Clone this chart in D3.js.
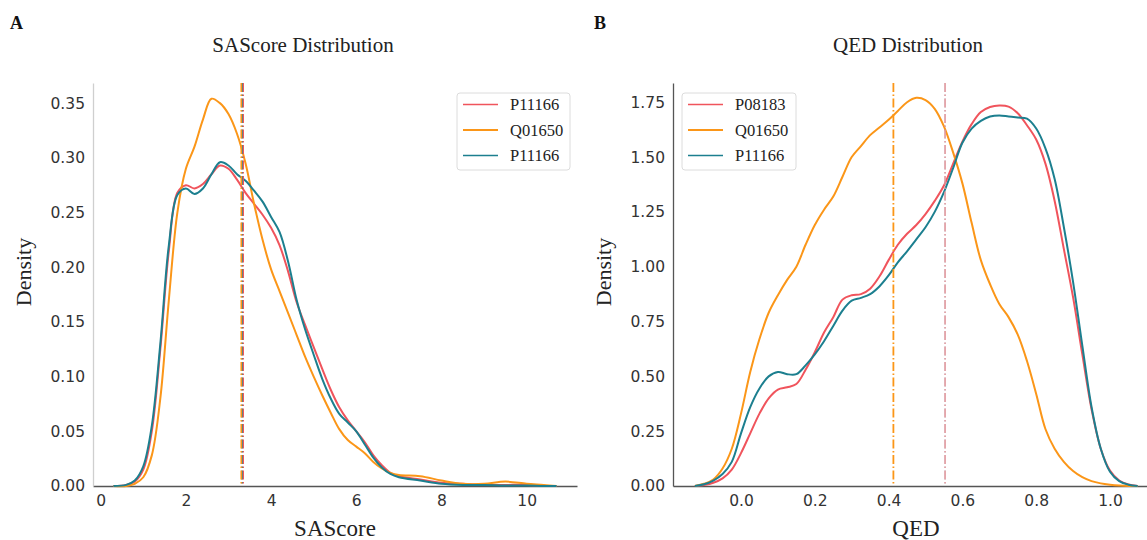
<!DOCTYPE html>
<html>
<head>
<meta charset="utf-8">
<script src="https://cdn.jsdelivr.net/npm/d3@7"></script>
<style>
  body { margin: 0; background: #fff; }
  svg { display: block; }
</style>
</head>
<body>
<svg width="1147" height="540"></svg>
<script>
// ---- data ----
const seriesColors = ["#f0545c", "#fb9618", "#1c7f8f"];

// panel A: SAScore kde curves
const saLabels = ["P11166", "Q01650", "P11166"];
const saX = [0.3, 0.6, 0.8, 1.0, 1.2, 1.4, 1.6, 1.8, 2.0, 2.2, 2.4, 2.6, 2.8, 3.0, 3.2, 3.4, 3.6, 3.8, 4.0, 4.2,
  4.4, 4.6, 4.8, 5.0, 5.2, 5.4, 5.6, 5.8, 6.0, 6.2, 6.4, 6.6, 6.8, 7.0, 7.5, 8.0, 8.5, 9.0, 9.5, 10.0, 10.4, 10.7];
const saRed = [0, 0.001, 0.004, 0.015, 0.05, 0.125, 0.215, 0.268, 0.275, 0.272, 0.276, 0.285, 0.293, 0.29, 0.28, 0.268,
  0.258, 0.248, 0.236, 0.22, 0.196, 0.168, 0.147, 0.127, 0.107, 0.088, 0.072, 0.06, 0.05, 0.04, 0.028, 0.019, 0.012,
  0.009, 0.006, 0.003, 0.002, 0.001, 0.001, 0.001, 0, 0];
const saOrange = [0, 0, 0.002, 0.008, 0.028, 0.08, 0.17, 0.25, 0.29, 0.31, 0.335, 0.354, 0.35, 0.34, 0.322, 0.295,
  0.258, 0.225, 0.198, 0.178, 0.158, 0.138, 0.118, 0.1, 0.083, 0.067, 0.052, 0.042, 0.036, 0.03, 0.022, 0.016, 0.012,
  0.01, 0.009, 0.005, 0.002, 0.002, 0.004, 0.002, 0.001, 0];
const saTeal = [0, 0.001, 0.005, 0.018, 0.055, 0.13, 0.22, 0.266, 0.272, 0.267, 0.272, 0.285, 0.296, 0.293, 0.285, 0.279,
  0.27, 0.26, 0.246, 0.232, 0.205, 0.17, 0.143, 0.12, 0.098, 0.08, 0.066, 0.058, 0.05, 0.038, 0.026, 0.017, 0.011,
  0.008, 0.005, 0.002, 0.001, 0.001, 0.0005, 0.0005, 0, 0];
const saMeans = [3.345, 3.30, 3.32];
const saTicksX = [0, 2, 4, 6, 8, 10];
const saTicksY = [0, 0.05, 0.10, 0.15, 0.20, 0.25, 0.30, 0.35];

// panel B: QED kde curves
const qedLabels = ["P08183", "Q01650", "P11166"];
const qedX = [-0.125, -0.1, -0.075, -0.05, -0.025, 0, 0.025, 0.05, 0.075, 0.1, 0.125, 0.15, 0.175, 0.2, 0.225, 0.25,
  0.275, 0.3, 0.325, 0.35, 0.375, 0.4, 0.425, 0.45, 0.475, 0.5, 0.525, 0.55, 0.575, 0.6, 0.625, 0.65, 0.675, 0.7,
  0.725, 0.75, 0.775, 0.8, 0.825, 0.85, 0.875, 0.9, 0.925, 0.95, 0.975, 1.0, 1.025, 1.05, 1.075];
const qedRed = [0, 0.005, 0.015, 0.035, 0.075, 0.15, 0.24, 0.33, 0.4, 0.44, 0.45, 0.465, 0.53, 0.61, 0.7, 0.77,
  0.85, 0.87, 0.875, 0.9, 0.955, 1.03, 1.1, 1.15, 1.19, 1.24, 1.3, 1.37, 1.47, 1.57, 1.65, 1.705, 1.728, 1.735,
  1.73, 1.7, 1.645, 1.58, 1.47, 1.3, 1.08, 0.86, 0.6, 0.35, 0.17, 0.07, 0.025, 0.007, 0];
const qedOrange = [0, 0.01, 0.03, 0.08, 0.17, 0.33, 0.52, 0.67, 0.79, 0.87, 0.94, 1.0, 1.1, 1.19, 1.26, 1.32,
  1.41, 1.5, 1.55, 1.6, 1.635, 1.67, 1.71, 1.75, 1.77, 1.76, 1.72, 1.64, 1.52, 1.38, 1.2, 1.03, 0.92, 0.83,
  0.77, 0.69, 0.57, 0.42, 0.26, 0.17, 0.11, 0.068, 0.04, 0.022, 0.012, 0.006, 0.002, 0, 0];
const qedTeal = [0, 0.008, 0.025, 0.055, 0.11, 0.24, 0.36, 0.445, 0.5, 0.52, 0.51, 0.51, 0.55, 0.6, 0.66, 0.73,
  0.8, 0.845, 0.858, 0.875, 0.91, 0.96, 1.02, 1.07, 1.125, 1.18, 1.25, 1.34, 1.45, 1.565, 1.63, 1.665, 1.685, 1.69,
  1.685, 1.68, 1.675, 1.63, 1.54, 1.4, 1.18, 0.93, 0.64, 0.36, 0.17, 0.065, 0.022, 0.006, 0];
const qedMeans = [0.553, 0.413, 0.553];
const qedTicksX = [0, 0.2, 0.4, 0.6, 0.8, 1.0];
const qedTicksY = [0, 0.25, 0.5, 0.75, 1.0, 1.25, 1.5, 1.75];

const svg = d3.select("svg");
const serif = "'Liberation Serif', 'Times New Roman', serif";
const sans = "'DejaVu Sans', sans-serif";

function drawPanel(opt) {
  const xScale = d3.scaleLinear().domain(opt.xDomain).range([opt.left, opt.right]);
  const yScale = d3.scaleLinear().domain(opt.yDomain).range([486, 83]);
  const g = svg.append("g");

  // axes: no tick marks, only labels
  g.append("g")
    .attr("transform", "translate(0,486)")
    .call(d3.axisBottom(xScale).tickValues(opt.ticksX).tickSize(0).tickPadding(9).tickFormat(opt.fmtX))
    .call(a => a.select(".domain").attr("stroke", "#555").attr("stroke-width", 1.3))
    .call(a => a.selectAll("text").attr("fill", "#333").style("font-family", sans).style("font-size", "15.5px"));

  g.append("g")
    .attr("transform", `translate(${opt.left},0)`)
    .call(d3.axisLeft(yScale).tickValues(opt.ticksY).tickSize(0).tickPadding(8).tickFormat(d3.format(".2f")))
    .call(a => a.select(".domain").attr("stroke", opt.yAxisColor).attr("stroke-width", 1.3))
    .call(a => a.selectAll("text").attr("fill", "#333").style("font-family", sans).style("font-size", "15.5px"));

  // kde curves
  const line = d3.line()
    .x(d => xScale(d[0]))
    .y(d => yScale(d[1]))
    .curve(d3.curveCatmullRom.alpha(0.5));

  opt.series.forEach((ys, i) => {
    g.append("path")
      .datum(opt.xs.map((x, j) => [x, ys[j]]))
      .attr("fill", "none")
      .attr("stroke", seriesColors[i])
      .attr("stroke-width", 2)
      .attr("d", line);
  });

  // mean lines
  opt.lineOrder.forEach(i => {
    g.append("line")
      .attr("x1", xScale(opt.means[i])).attr("x2", xScale(opt.means[i]))
      .attr("y1", 83).attr("y2", 486)
      .attr("stroke", opt.meanColors[i])
      .attr("stroke-width", opt.meanWidths[i])
      .attr("stroke-dasharray", "9,2.5,1.5,2.5");
  });

  // legend
  const lg = g.append("g").attr("transform", `translate(${opt.legendX},93)`);
  lg.append("rect")
    .attr("width", opt.legendW).attr("height", 77).attr("rx", 3)
    .attr("fill", "#fff").attr("stroke", "#dcdcdc");
  opt.labels.forEach((lab, i) => {
    lg.append("line")
      .attr("x1", 6).attr("x2", 41)
      .attr("y1", 11.5 + i * 25.5).attr("y2", 11.5 + i * 25.5)
      .attr("stroke", seriesColors[i]).attr("stroke-width", i === 1 ? 2.2 : 1.6);
    lg.append("text")
      .attr("x", 53).attr("y", 17 + i * 25.5)
      .attr("fill", "#222")
      .style("font-family", serif).style("font-size", "16.5px")
      .text(lab);
  });

  // titles and labels
  g.append("text")
    .attr("x", opt.titleX).attr("y", 52)
    .attr("text-anchor", "middle").attr("fill", "#222")
    .style("font-family", serif).style("font-size", "21px")
    .text(opt.title);
  g.append("text")
    .attr("x", (opt.left + opt.right) / 2).attr("y", 536)
    .attr("text-anchor", "middle").attr("fill", "#222")
    .style("font-family", serif).style("font-size", "23px")
    .text(opt.xLabel);
  g.append("text")
    .attr("transform", `translate(${opt.left - 62},272) rotate(-90)`)
    .attr("text-anchor", "middle").attr("fill", "#222")
    .style("font-family", serif).style("font-size", "22px")
    .text("Density");
  g.append("text")
    .attr("x", opt.letterX).attr("y", 29)
    .attr("fill", "#111")
    .style("font-family", serif).style("font-size", "18px").style("font-weight", "bold")
    .text(opt.letter);
}

drawPanel({
  xs: saX, series: [saRed, saOrange, saTeal], labels: saLabels, means: saMeans,
  meanColors: ["#f0545c", "#fb9618", "#4b7f86"], meanWidths: [1.6, 1.6, 1.6], lineOrder: [0, 2, 1],
  xDomain: [-0.18, 11.18], yDomain: [0, 0.3684], left: 93, right: 577,
  ticksX: saTicksX, ticksY: saTicksY, fmtX: d3.format("d"),
  yAxisColor: "#cfcfcf", legendX: 457, legendW: 113,
  title: "SAScore Distribution", titleX: 303, xLabel: "SAScore", letter: "A", letterX: 10
});

drawPanel({
  xs: qedX, series: [qedRed, qedOrange, qedTeal], labels: qedLabels, means: qedMeans,
  meanColors: ["#f5969c", "#fb9618", "#1c7f8f"], meanWidths: [1.4, 1.8, 0.6], lineOrder: [2, 0, 1],
  xDomain: [-0.1843, 1.1328], yDomain: [0, 1.8377], left: 673, right: 1159,
  ticksX: qedTicksX, ticksY: qedTicksY, fmtX: d3.format(".1f"),
  yAxisColor: "#555", legendX: 682, legendW: 114,
  title: "QED Distribution", titleX: 908, xLabel: "QED", letter: "B", letterX: 594
});
</script>
</body>
</html>
